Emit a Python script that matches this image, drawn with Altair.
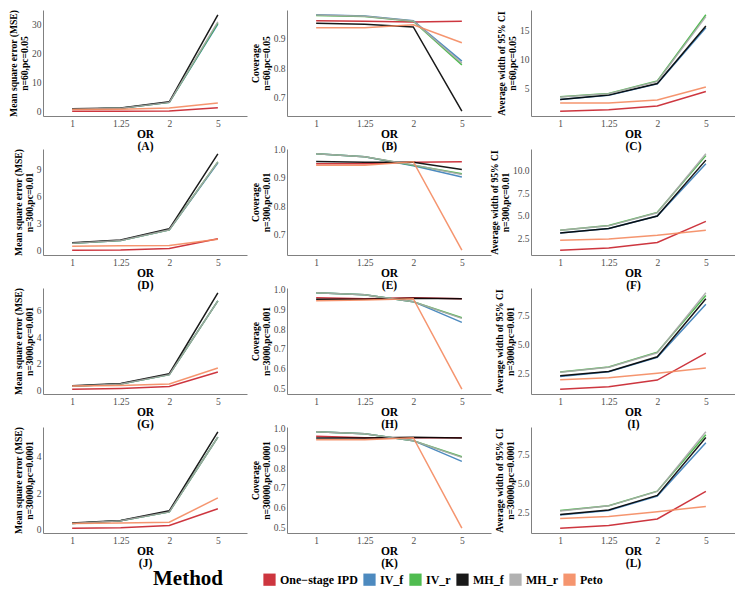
import altair as alt
import pandas as pd

FONT = "Liberation Serif"

methods = ["One−stage IPD", "IV_f", "IV_r", "MH_f", "MH_r", "Peto"]
colors = ["#C8202A", "#3A7DB8", "#3DB53D", "#000000", "#A8A8A8", "#F4895F"]
or_levels = ["1", "1.25", "2", "5"]

# values per panel, rows in method order: IPD, IV_f, IV_r, MH_f, MH_r, Peto
mse_60 = [[0.2, 0.2, 0.3, 1.4], [0.9, 1.2, 3.2, 30.0], [0.9, 1.2, 3.2, 30.4],
          [1.0, 1.3, 3.4, 33.2], [0.9, 1.2, 3.2, 30.8], [0.8, 0.9, 1.3, 3.0]]
cov_60 = [[0.962, 0.960, 0.958, 0.960], [0.982, 0.978, 0.962, 0.825], [0.980, 0.976, 0.960, 0.812],
          [0.953, 0.950, 0.941, 0.655], [0.981, 0.977, 0.961, 0.818], [0.938, 0.938, 0.948, 0.887]]
wid_60 = [[1.2, 1.45, 2.1, 4.55], [3.2, 3.9, 5.85, 15.4], [3.65, 4.2, 6.35, 17.6],
          [3.2, 3.95, 5.9, 15.7], [3.6, 4.15, 6.25, 17.3], [2.6, 2.6, 3.1, 5.3]]

mse_300 = [[0.07, 0.1, 0.25, 1.35], [0.85, 1.15, 2.35, 9.8], [0.85, 1.15, 2.35, 9.9],
           [0.9, 1.2, 2.45, 10.8], [0.85, 1.15, 2.35, 9.9], [0.5, 0.55, 0.6, 1.3]]
cov_300 = [[0.950, 0.950, 0.955, 0.957], [0.985, 0.975, 0.943, 0.903], [0.985, 0.975, 0.945, 0.915],
           [0.958, 0.955, 0.955, 0.930], [0.985, 0.975, 0.946, 0.912], [0.945, 0.945, 0.957, 0.645]]
wid_300 = [[1.2, 1.45, 2.05, 4.4], [3.1, 3.6, 5.0, 10.8], [3.4, 3.95, 5.4, 11.7],
           [3.1, 3.6, 5.0, 11.2], [3.4, 3.9, 5.35, 11.9], [2.3, 2.45, 2.85, 3.4]]

mse_3000 = [[0.12, 0.18, 0.32, 1.4], [0.33, 0.5, 1.2, 6.7], [0.33, 0.5, 1.2, 6.7],
            [0.37, 0.54, 1.27, 7.3], [0.33, 0.5, 1.2, 6.7], [0.35, 0.4, 0.5, 1.7]]
cov_3000 = [[0.960, 0.955, 0.960, 0.955], [0.985, 0.975, 0.940, 0.835], [0.985, 0.975, 0.940, 0.858],
            [0.952, 0.952, 0.957, 0.955], [0.985, 0.975, 0.940, 0.855], [0.945, 0.948, 0.955, 0.495]]
wid_3000 = [[1.14, 1.36, 1.93, 4.26], [2.25, 2.65, 3.9, 8.5], [2.64, 3.07, 4.35, 9.26],
            [2.3, 2.67, 3.95, 8.98], [2.6, 3.05, 4.3, 9.5], [1.96, 2.13, 2.53, 2.98]]

mse_30000 = [[0.07, 0.1, 0.22, 1.14], [0.33, 0.48, 0.97, 5.1], [0.33, 0.48, 0.97, 5.1],
             [0.36, 0.5, 1.03, 5.39], [0.33, 0.48, 0.97, 5.1], [0.33, 0.35, 0.4, 1.74]]
cov_30000 = [[0.962, 0.955, 0.955, 0.955], [0.985, 0.975, 0.940, 0.835], [0.985, 0.975, 0.940, 0.858],
             [0.953, 0.953, 0.958, 0.953], [0.985, 0.975, 0.940, 0.855], [0.945, 0.945, 0.955, 0.495]]
wid_30000 = [[1.12, 1.35, 1.92, 4.3], [2.25, 2.65, 3.9, 8.5], [2.64, 3.06, 4.32, 9.2],
             [2.3, 2.7, 3.95, 8.95], [2.6, 3.05, 4.3, 9.45], [1.95, 2.12, 2.55, 3.0]]

settings = ["n=60,pc=0.05", "n=300,pc=0.01", "n=3000,pc=0.001", "n=30000,pc=0.0001"]
metric_titles = ["Mean square error (MSE)", "Coverage", "Average width of 95% CI"]
panel_letters = ["A", "B", "C", "D", "E", "F", "G", "H", "I", "J", "K", "L"]
panel_data = [mse_60, cov_60, wid_60, mse_300, cov_300, wid_300,
              mse_3000, cov_3000, wid_3000, mse_30000, cov_30000, wid_30000]
panel_ticks = [[0, 10, 20, 30], [0.7, 0.8, 0.9, 1.0], [5, 10, 15],
               [0, 3, 6, 9], [0.7, 0.8, 0.9, 1.0], [2.5, 5.0, 7.5, 10.0],
               [0, 2, 4, 6], [0.5, 0.6, 0.7, 0.8, 0.9, 1.0], [2.5, 5.0, 7.5],
               [0, 2, 4], [0.5, 0.6, 0.7, 0.8, 0.9, 1.0], [2.5, 5.0, 7.5]]
panel_formats = ["d", ".1f", "d", "d", ".1f", ".1f", "d", ".1f", ".1f", "d", ".1f", ".1f"]

W = 204
H = 106

color_scale = alt.Scale(domain=methods, range=colors)


def make_panel(i):
    values = panel_data[i]
    rows = []
    for m, vals in zip(methods, values):
        for o, v in zip(or_levels, vals):
            rows.append({"OR": o, "Method": m, "value": v})
    df = pd.DataFrame(rows)
    lo = df["value"].min()
    hi = df["value"].max()
    pad = 0.05 * (hi - lo)
    return alt.Chart(df).mark_line(strokeWidth=1.5, opacity=0.9).encode(
        x=alt.X("OR:O", sort=or_levels,
                scale=alt.Scale(type="point", padding=0.6),
                axis=alt.Axis(title=["OR", f"({panel_letters[i]})"], labelAngle=0)),
        y=alt.Y("value:Q",
                scale=alt.Scale(domain=[lo - pad, hi + pad], nice=False, zero=False),
                axis=alt.Axis(title=[metric_titles[i % 3], settings[i // 3]],
                              values=panel_ticks[i], format=panel_formats[i])),
        color=alt.Color("Method:N", scale=color_scale),
        detail="Method:N",
    ).properties(width=W, height=H)


panels = [make_panel(i) for i in range(12)]

grid = alt.concat(*panels, columns=3, spacing={"row": 33, "column": 40},
                  bounds="flush")

legend_chart = alt.Chart(alt.Data(values=[])).mark_square(filled=True, opacity=0, size=1).encode(
    color=alt.Color("Method:N", scale=color_scale,
                    legend=alt.Legend(
                        title="Method", orient="none", legendX=110, legendY=565,
                        direction="horizontal", titleOrient="left",
                        titleFont=FONT, titleFontSize=21, titleFontWeight="bold",
                        titleColor="black", titlePadding=40,
                        labelFont=FONT, labelFontSize=12, labelFontWeight="bold",
                        labelColor="black", symbolType="square", symbolSize=150,
                        symbolOpacity=1, symbolStrokeWidth=0,
                        columnPadding=5, labelOffset=4)),
).properties(width=1, height=1)

chart = alt.vconcat(legend_chart, grid, spacing=0).properties(
    padding={"left": 0, "top": 0, "right": 0, "bottom": 0}
).configure_view(stroke=None).configure_axis(
    grid=False, ticks=False, domainColor="#808080", domainWidth=1,
    labelFont=FONT, labelFontSize=9.5, labelColor="#4d4d4d", labelPadding=2,
    titleFont=FONT, titleFontWeight="bold", titleColor="black",
).configure_axisX(titleFontSize=11.5, titleLineHeight=11.5, titlePadding=1
).configure_axisY(titleFontSize=9.6, titleLineHeight=11, titlePadding=2)

chart.save("out.html", embed_options={"renderer": "svg", "actions": False})
